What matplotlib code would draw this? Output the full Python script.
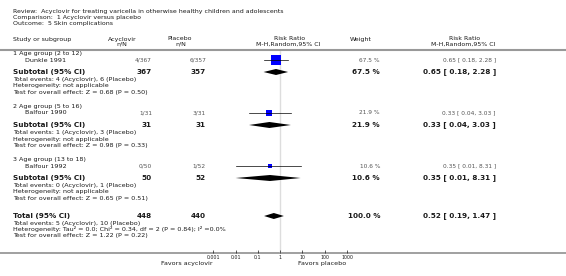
import matplotlib
matplotlib.use("Agg")
import matplotlib.pyplot as plt
import numpy as np

review = "Review:  Acyclovir for treating varicella in otherwise healthy children and adolescents"
comparison = "Comparison:  1 Acyclovir versus placebo"
outcome = "Outcome:  5 Skin complications"

groups = ["1 Age group (2 to 12)", "2 Age group (5 to 16)", "3 Age group (13 to 18)"]
studies = ["Dunkle 1991", "Balfour 1990", "Balfour 1992"]
acy_events = [4, 1, 0]
acy_total = [367, 31, 50]
pla_events = [6, 3, 1]
pla_total = [357, 31, 52]
weights = [67.5, 21.9, 10.6]
rr = [0.65, 0.33, 0.35]
rr_lo = [0.18, 0.04, 0.01]
rr_hi = [2.28, 3.03, 8.31]
z_values = [0.68, 0.98, 0.65]
p_values = [0.50, 0.33, 0.51]

total_rr, total_lo, total_hi = 0.52, 0.19, 1.47
total_z, total_p = 1.22, 0.22
tau2, chi2, df, het_p, i2 = 0.0, 0.34, 2, 0.84, 0.0

tick_values = [0.001, 0.01, 0.1, 1, 10, 100, 1000]
tick_labels = ["0.001", "0.01", "0.1", "1", "10", "100", "1000"]

W, H = 566, 276
fig = plt.figure(figsize=(W / 100, H / 100), dpi=100)
ax = fig.add_axes([0, 0, 1, 1])
ax.set_xlim(0, W)
ax.set_ylim(H, 0)
ax.axis("off")

dark = "#1a1a1a"
light = "#555555"
fs = 4.55
fs_head = 4.5
fs_small = 4.2
fs_bold = 5.2


def txt(x, y, s, size=fs, ha="left", weight="normal", color=dark):
    ax.text(x, y, s, fontsize=size, ha=ha, va="center", fontweight=weight, color=color)


# title block
txt(13, 11.5, review, size=fs_head)
txt(13, 17.5, comparison, size=fs_head)
txt(13, 23.8, outcome, size=fs_head)

# column headers
txt(13, 39, "Study or subgroup", size=fs_head)
txt(122, 39, "Acyclovir", size=fs_head, ha="center")
txt(122, 43.8, "n/N", size=fs_head, ha="center")
txt(180, 39, "Placebo", size=fs_head, ha="center")
txt(181, 43.8, "n/N", size=fs_head, ha="center")
txt(290, 39, "Risk Ratio", size=fs_head, ha="center")
txt(288, 43.8, "M-H,Random,95% CI", size=fs_head, ha="center")
txt(361, 39, "Weight", size=fs_head, ha="center")
txt(465, 39, "Risk Ratio", size=fs_head, ha="center")
txt(463, 43.8, "M-H,Random,95% CI", size=fs_head, ha="center")

ax.plot([0, W], [49.5, 49.5], color="#999999", lw=1.5, solid_capstyle="butt")
ax.plot([0, W], [252.5, 252.5], color="#999999", lw=1.3, solid_capstyle="butt")

# forest axes on a log scale, y in pixel rows
x0, x1, ytop, ybot = 213.3, 347.0, 50.5, 252.5
fx = fig.add_axes([x0 / W, 1 - ybot / H, (x1 - x0) / W, (ybot - ytop) / H])
fx.set_xscale("log")
fx.set_xlim(0.001, 1000)
fx.set_ylim(ybot, ytop)
fx.patch.set_alpha(0)
for sp in fx.spines.values():
    sp.set_visible(False)
fx.set_xticks(tick_values)
fx.set_xticklabels(tick_labels)
fx.minorticks_off()
fx.tick_params(axis="x", direction="in", length=2.5, width=0.5, labelsize=3.4,
               pad=1.6, colors=dark)
fx.set_yticks([])
fx.axvline(1, color="#dddddd", lw=1.0, zorder=0)


def diamond(est, lo, hi, y, h=3.0):
    fx.fill([lo, est, hi, est], [y, y - h, y, y + h], color="black", lw=0)


group_y = [53.5, 106.5, 159.5]
for i, g in enumerate(groups):
    y0 = group_y[i]
    ys = y0 + 6.5
    ysub = y0 + 18.5
    txt(13, y0, g)
    txt(25, ys, studies[i])
    txt(152, ys, f"{acy_events[i]}/{acy_total[i]}", size=fs_small, ha="right", color=light)
    txt(206, ys, f"{pla_events[i]}/{pla_total[i]}", size=fs_small, ha="right", color=light)
    txt(380, ys, f"{weights[i]:.1f} %", size=fs_small, ha="right", color=light)
    txt(496, ys, f"{rr[i]:.2f} [ {rr_lo[i]:.2f}, {rr_hi[i]:.2f} ]", size=fs_small,
        ha="right", color=light)

    fx.plot(rr[i], ys, marker="s", ms=1.25 * np.sqrt(weights[i]) * 0.72,
            color="#0000ff", mew=0, zorder=2)
    fx.plot([rr_lo[i], rr_hi[i]], [ys, ys], color="black", lw=0.5, zorder=3)

    txt(13, ysub, "Subtotal (95% CI)", size=fs_bold, weight="bold")
    txt(152, ysub, f"{acy_total[i]}", size=fs_bold, ha="right", weight="bold")
    txt(206, ysub, f"{pla_total[i]}", size=fs_bold, ha="right", weight="bold")
    txt(380, ysub, f"{weights[i]:.1f} %", size=fs_bold, ha="right", weight="bold")
    txt(496, ysub, f"{rr[i]:.2f} [ {rr_lo[i]:.2f}, {rr_hi[i]:.2f} ]", size=fs_bold,
        ha="right", weight="bold")
    diamond(rr[i], rr_lo[i], rr_hi[i], ysub)

    txt(13, ysub + 7.5, f"Total events: {acy_events[i]} (Acyclovir), {pla_events[i]} (Placebo)")
    txt(13, ysub + 14, "Heterogeneity: not applicable")
    txt(13, ysub + 20.5, f"Test for overall effect: Z = {z_values[i]:.2f} (P = {p_values[i]:.2f})")

# overall total
yt = 216
txt(13, yt, "Total (95% CI)", size=fs_bold, weight="bold")
txt(152, yt, f"{sum(acy_total)}", size=fs_bold, ha="right", weight="bold")
txt(206, yt, f"{sum(pla_total)}", size=fs_bold, ha="right", weight="bold")
txt(380, yt, f"{sum(weights):.1f} %", size=fs_bold, ha="right", weight="bold")
txt(496, yt, f"{total_rr:.2f} [ {total_lo:.2f}, {total_hi:.2f} ]", size=fs_bold,
    ha="right", weight="bold")
diamond(total_rr, total_lo, total_hi, yt)
txt(13, yt + 7, f"Total events: {sum(acy_events)} (Acyclovir), {sum(pla_events)} (Placebo)")
txt(13, yt + 13.5, f"Heterogeneity: Tau\u00b2 = {tau2:.1f}; Chi\u00b2 = {chi2:.2f}, df = {df} "
    f"(P = {het_p:.2f}); I\u00b2 ={i2:.1f}%")
txt(13, yt + 20, f"Test for overall effect: Z = {total_z:.2f} (P = {total_p:.2f})")

txt(213, 263, "Favors acyclovir", ha="right")
txt(298, 263, "Favors placebo", ha="left")

fig.savefig("out.png", dpi=100)
